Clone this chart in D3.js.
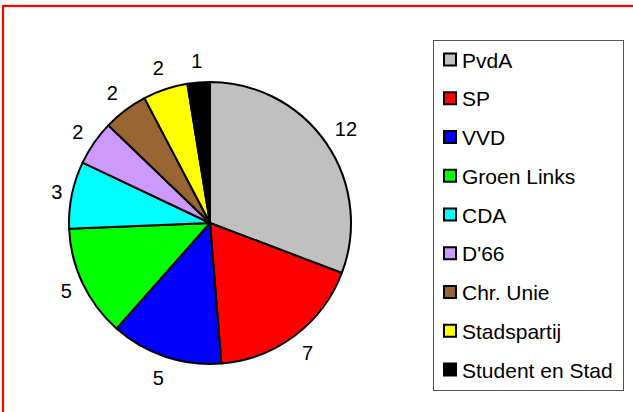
<!DOCTYPE html>
<html lang="nl">
<head>
  <meta charset="UTF-8">
  <title>Zetelverdeling</title>
  <script src="https://d3js.org/d3.v7.min.js"></script>
  <style>
    body { margin: 0; background: #fff; }
    svg { display: block; font-family: 'Liberation Sans', Arial, sans-serif; }
    text { fill: #000; }
  </style>
</head>
<body>
<svg width="633" height="412"></svg>

<script>
  const parties = ["PvdA", "SP", "VVD", "Groen Links", "CDA", "D'66", "Chr. Unie", "Stadspartij", "Student en Stad"];
  const seats = [12, 7, 5, 5, 3, 2, 2, 2, 1];
  const colors = ["#c0c0c0", "#ff0000", "#0000ff", "#00ff00", "#00ffff", "#cc99ff", "#996633", "#ffff00", "#000000"];

  const data = parties.map((p, i) => ({ party: p, seats: seats[i], color: colors[i] }));

  const svg = d3.select("svg");

  // red frame (only top and left edges fall inside the picture)
  svg.append("rect")
    .attr("x", 3).attr("y", 6)
    .attr("width", 660).attr("height", 440)
    .attr("fill", "#fff")
    .attr("stroke", "#ff0000")
    .attr("stroke-width", 2.2);

  const cx = 210, cy = 223, r = 141;
  const g = svg.append("g").attr("transform", `translate(${cx},${cy})`);

  const pie = d3.pie().sort(null).value(d => d.seats);
  const arcs = pie(data);
  const arc = d3.arc().innerRadius(0).outerRadius(r);

  g.selectAll("path")
    .data(arcs)
    .enter()
    .append("path")
    .attr("d", arc)
    .attr("fill", d => d.data.color)
    .attr("stroke", "#000")
    .attr("stroke-width", 2)
    .attr("stroke-linejoin", "round");

  // labels: keep the nearest edge of the label box a fixed gap from the rim
  const fs = 21, gap = 7;
  g.selectAll(".label")
    .data(arcs)
    .enter()
    .append("text")
    .attr("class", "label")
    .attr("text-anchor", "middle")
    .attr("dominant-baseline", "central")
    .style("font-size", "20px")
    .text(d => d.data.seats)
    .attr("transform", function(d) {
      const a = (d.startAngle + d.endAngle) / 2;
      const hw = this.getComputedTextLength() / 2, hh = 14;
      const R = r + gap + hw * Math.abs(Math.sin(a)) + hh * Math.abs(Math.cos(a));
      return `translate(${R * Math.sin(a)},${-R * Math.cos(a)})`;
    });

  // Legend
  const lx = 433, ly = 40, lw = 190, lh = 350;
  const legend = svg.append("g");
  legend.append("rect")
    .attr("x", lx + 0.5).attr("y", ly + 0.5)
    .attr("width", lw).attr("height", lh)
    .attr("fill", "#fff")
    .attr("stroke", "#555")
    .attr("stroke-width", 1);

  const row = d3.scalePoint()
    .domain(parties)
    .range([ly + 20, ly + 330]);

  const items = legend.selectAll(".item")
    .data(data)
    .enter()
    .append("g")
    .attr("transform", d => `translate(${lx},${row(d.party)})`);

  items.append("rect")
    .attr("x", 11).attr("y", -6.5)
    .attr("width", 12).attr("height", 12)
    .attr("fill", d => d.color)
    .attr("stroke", "#000")
    .attr("stroke-width", 2);

  items.append("text")
    .attr("x", 29)
    .attr("y", 0)
    .attr("dominant-baseline", "central")
    .style("font-size", fs + "px")
    .text(d => d.party);
</script>
</body>
</html>
